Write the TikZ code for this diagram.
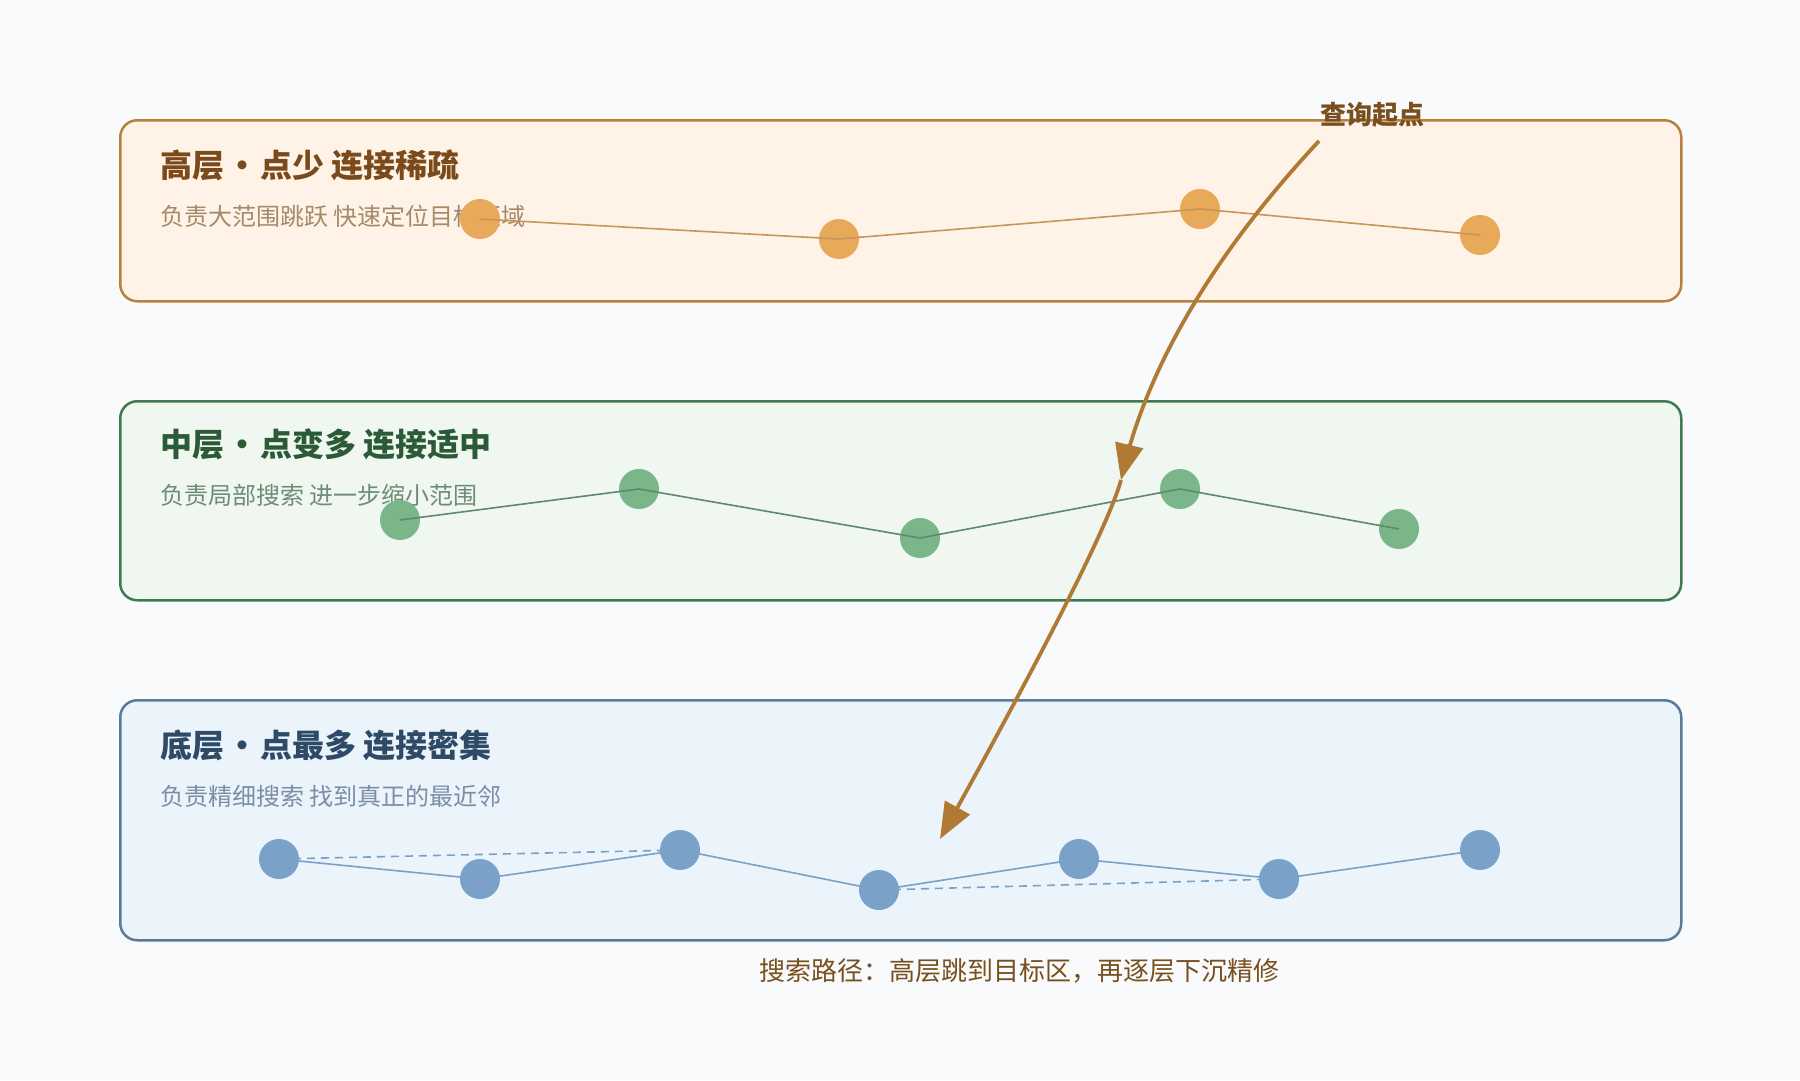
\documentclass[tikz,border=0pt]{standalone}
\usepackage{fontspec}
\setmainfont{Noto Sans CJK SC}
\usetikzlibrary{arrows.meta}
\definecolor{bg}{HTML}{F8FAFC}
\definecolor{topfill}{HTML}{FEF3E6}
\definecolor{topborder}{HTML}{B5813F}
\definecolor{topnode}{HTML}{E8A95A}
\definecolor{topline}{HTML}{C8965A}
\definecolor{toptitle}{HTML}{7A4A1A}
\definecolor{topsub}{HTML}{A48A6A}
\definecolor{midfill}{HTML}{F0F6F0}
\definecolor{midborder}{HTML}{3F7A52}
\definecolor{midnode}{HTML}{7BB68A}
\definecolor{midline}{HTML}{5E8A6A}
\definecolor{midtitle}{HTML}{2B5A36}
\definecolor{midsub}{HTML}{6E8C76}
\definecolor{botfill}{HTML}{EBF3FB}
\definecolor{botborder}{HTML}{5B7A99}
\definecolor{botnode}{HTML}{7AA2C9}
\definecolor{botline}{HTML}{7AA2C9}
\definecolor{bottitle}{HTML}{2E4A66}
\definecolor{botsub}{HTML}{7A8EA5}
\definecolor{arrowc}{HTML}{B07A35}
\definecolor{labelc}{HTML}{7A4F1E}
\newcommand{\sepdot}{\hspace{0.06em}•\hspace{0.06em}}
\tikzset{
  layerbox/.style={draw, line width=2.5pt, rounded corners=17pt},
  dot/.style={circle, inner sep=0pt, minimum size=40pt},
  titletext/.style={anchor=west, inner sep=0pt, font=\fontsize{32}{38}\selectfont\bfseries},
  subtext/.style={anchor=west, inner sep=0pt, font=\fontsize{24}{29}\selectfont},
  link/.style={line width=1.6pt},
  dashlink/.style={line width=1.6pt, dash pattern=on 8pt off 6pt},
  pathline/.style={draw=arrowc, line width=3.8pt, shorten >=10pt},
  pathtip/.style={draw=arrowc, line width=3.8pt, -{Triangle[length=36pt,width=28pt]}},
}
\begin{document}
\begin{tikzpicture}[x=1pt,y=-1pt]
\path[fill=bg, use as bounding box] (0,0) rectangle (1800,1080);

% top layer
\node[layerbox, draw=topborder, fill=topfill, minimum width=1561pt, minimum height=181pt, anchor=north west] (boxtop) at (119,119) {};
\node[titletext, text=toptitle] (ttop) at (160,165) {高层\sepdot 点少 连接稀疏};
\node[subtext, text=topsub] (stop) at (160,216) {负责大范围跳跃 快速定位目标区域};
\node[dot, fill=topnode] (t1) at (480,219) {};
\node[dot, fill=topnode] (t2) at (839,239) {};
\node[dot, fill=topnode] (t3) at (1200,209) {};
\node[dot, fill=topnode] (t4) at (1480,235) {};
\draw[link, topline] (t1.center) -- (t2.center) -- (t3.center) -- (t4.center);

% middle layer
\node[layerbox, draw=midborder, fill=midfill, minimum width=1561pt, minimum height=199pt, anchor=north west] (boxmid) at (119,400) {};
\node[titletext, text=midtitle] (tmid) at (160,444) {中层\sepdot 点变多 连接适中};
\node[subtext, text=midsub] (smid) at (160,495) {负责局部搜索 进一步缩小范围};
\node[dot, fill=midnode] (m1) at (400,520) {};
\node[dot, fill=midnode] (m2) at (639,489) {};
\node[dot, fill=midnode] (m3) at (920,538) {};
\node[dot, fill=midnode] (m4) at (1180,489) {};
\node[dot, fill=midnode] (m5) at (1399,529) {};
\draw[link, midline] (m1.center) -- (m2.center) -- (m3.center) -- (m4.center) -- (m5.center);

% bottom layer
\node[layerbox, draw=botborder, fill=botfill, minimum width=1561pt, minimum height=240pt, anchor=north west] (boxbot) at (119,699) {};
\node[titletext, text=bottitle] (tbot) at (160,745) {底层\sepdot 点最多 连接密集};
\node[subtext, text=botsub] (sbot) at (160,796) {负责精细搜索 找到真正的最近邻};
\coordinate (c1) at (279,859);
\coordinate (c2) at (480,879);
\coordinate (c3) at (680,850);
\coordinate (c4) at (879,890);
\coordinate (c5) at (1079,859);
\coordinate (c6) at (1279,879);
\coordinate (c7) at (1480,850);
\draw[link, botline] (c1) -- (c2) -- (c3) -- (c4) -- (c5) -- (c6) -- (c7);
\draw[dashlink, botline] (c1) -- (c3);
\draw[dashlink, botline] (c4) -- (c6);
\node[dot, fill=botnode] (b1) at (c1) {};
\node[dot, fill=botnode] (b2) at (c2) {};
\node[dot, fill=botnode] (b3) at (c3) {};
\node[dot, fill=botnode] (b4) at (c4) {};
\node[dot, fill=botnode] (b5) at (c5) {};
\node[dot, fill=botnode] (b6) at (c6) {};
\node[dot, fill=botnode] (b7) at (c7) {};

% search path
\node[inner sep=0pt, text=labelc, font=\fontsize{26}{31}\selectfont\bfseries] (qlabel) at (1372,115) {查询起点};
\coordinate (qs) at (1319,141);
\coordinate (qm) at (1121,480);
\coordinate (qe) at (940,839);
\coordinate (qmback) at (1129.5,444);
\coordinate (qeback) at (957.5,807.5);
\draw[pathline] (qs) .. controls (1213.7,253.7) and (1147.7,366.7) .. (qm);
\draw[pathtip] (qmback) -- (qm);
\draw[pathline] (qm) .. controls (1109,523.3) and (1048.7,643) .. (qe);
\draw[pathtip] (qeback) -- (qe);

\node[inner sep=0pt, text=labelc, font=\fontsize{26}{31}\selectfont] (caption) at (1019,971) {搜索路径：高层跳到目标区，再逐层下沉精修};
\end{tikzpicture}
\end{document}
